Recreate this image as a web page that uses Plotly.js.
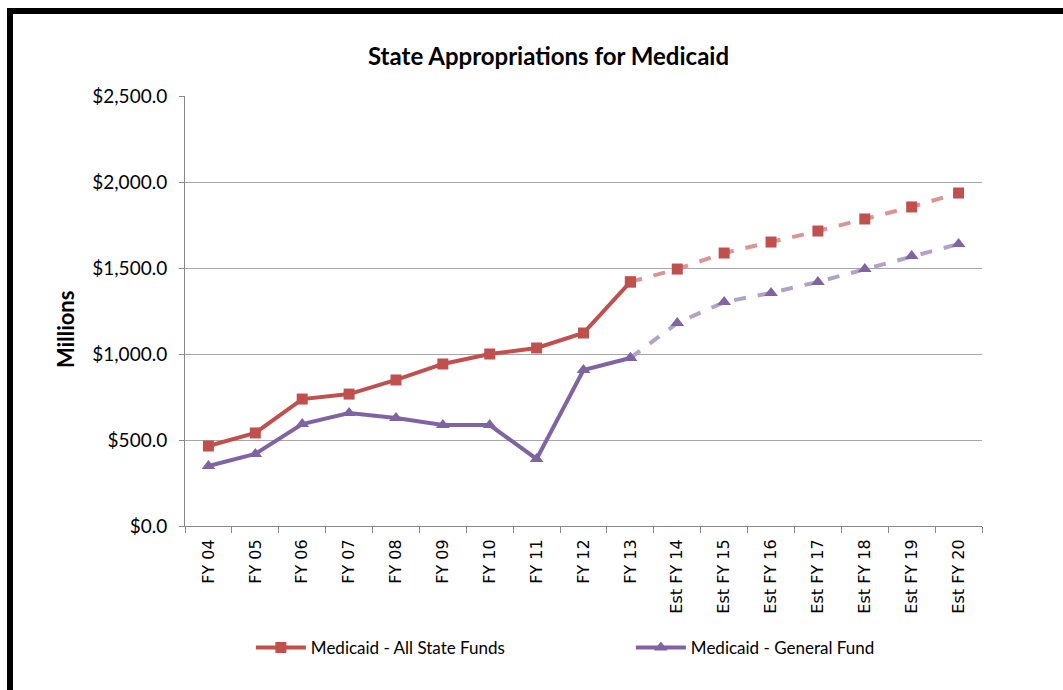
<!DOCTYPE html>
<html>
<head>
<meta charset="utf-8">
<script src="https://cdn.plot.ly/plotly-3.0.1.min.js"></script>
<style>
html,body{margin:0;padding:0;background:#fff;width:1063px;height:690px;overflow:hidden;}
#chart{position:absolute;left:0;top:0;width:1063px;height:690px;}
#frame{position:absolute;left:7px;top:8px;width:1056px;height:682px;border-top:6px solid #000;border-left:6px solid #000;box-sizing:border-box;pointer-events:none;z-index:5;}
</style>
</head>
<body>
<div id="chart"></div>
<div id="frame"></div>
<script>
const categories = ["FY 04","FY 05","FY 06","FY 07","FY 08","FY 09","FY 10","FY 11","FY 12","FY 13",
  "Est FY 14","Est FY 15","Est FY 16","Est FY 17","Est FY 18","Est FY 19","Est FY 20"];
const allStateFunds = [465, 541, 738, 767, 849, 942, 1000, 1035, 1122, 1419,
  1494, 1587, 1651, 1715, 1785, 1855, 1936];
const generalFund = [349, 419, 593, 657, 628, 587, 587, 390, 907, 977,
  1180, 1302, 1355, 1419, 1494, 1570, 1640];
const actualCount = 10; // FY 04 - FY 13 actual; remainder estimated

const red = "#C0504D", redLight = "#DA9694";
const purple = "#8064A2", purpleLight = "#B3A2C7";
const mainFont = "Lato, 'Open Sans', sans-serif";

function seg(arr, a, b){ return arr.slice(a, b); }

const traces = [
  {
    x: seg(categories, actualCount-1, categories.length),
    y: seg(allStateFunds, actualCount-1, categories.length),
    type: "scatter", mode: "lines+markers", showlegend: false,
    line: {color: redLight, width: 4, dash: "dash"},
    marker: {symbol: "square", size: 11, color: red}
  },
  {
    x: seg(categories, actualCount-1, categories.length),
    y: seg(generalFund, actualCount-1, categories.length),
    type: "scatter", mode: "lines+markers", showlegend: false,
    line: {color: purpleLight, width: 4, dash: "dash"},
    marker: {symbol: "triangle-up", size: 12, color: purple}
  },
  {
    name: "Medicaid - All State Funds",
    x: seg(categories, 0, actualCount),
    y: seg(allStateFunds, 0, actualCount),
    type: "scatter", mode: "lines+markers",
    line: {color: red, width: 4},
    marker: {symbol: "square", size: 11, color: red}
  },
  {
    name: "Medicaid - General Fund",
    x: seg(categories, 0, actualCount),
    y: seg(generalFund, 0, actualCount),
    type: "scatter", mode: "lines+markers",
    line: {color: purple, width: 4},
    marker: {symbol: "triangle-up", size: 12, color: purple}
  }
];

const layout = {
  width: 1063, height: 690,
  margin: {l: 185, r: 81, t: 96, b: 164},
  paper_bgcolor: "#fff", plot_bgcolor: "#fff",
  font: {family: mainFont, color: "#000"},
  title: {
    text: "<b>State Appropriations for Medicaid</b>",
    font: {family: mainFont, size: 24, color: "#000"},
    x: 0.516, xanchor: "center", y: 0.918, yanchor: "middle"
  },
  xaxis: {
    type: "category", categoryorder: "array", categoryarray: categories,
    range: [-0.5, 16.5], automargin: false,
    tickangle: -90, tickson: "boundaries",
    ticks: "outside", ticklen: 6, tickcolor: "#888", tickwidth: 1,
    ticklabelstandoff: 6,
    showline: true, linecolor: "#888", linewidth: 1,
    showgrid: false, zeroline: false,
    tickfont: {family: "'DejaVu Sans', Verdana, sans-serif", size: 16, color: "#000"},
    fixedrange: true
  },
  yaxis: {
    range: [0, 2500], dtick: 500, tick0: 0, automargin: false,
    tickprefix: "$", tickformat: ",.1f",
    ticks: "outside", ticklen: 5, tickcolor: "#888",
    ticklabelstandoff: 8,
    showline: true, linecolor: "#888", linewidth: 1,
    showgrid: true, gridcolor: "#A6A6A6", gridwidth: 1,
    zeroline: false,
    tickfont: {family: mainFont, size: 19, color: "#000"},
    fixedrange: true
  },
  annotations: [{
    text: "<b>Millions</b>", textangle: -90, showarrow: false,
    xref: "paper", yref: "paper", x: -0.1506, y: 0.458,
    xanchor: "center", yanchor: "middle",
    font: {family: mainFont, size: 22, color: "#000"}
  }],
  legend: {
    orientation: "h", xref: "container", yref: "container",
    x: 0.236, xanchor: "left", y: 0.061, yanchor: "middle",
    font: {family: mainFont, size: 17, color: "#000"},
    entrywidth: 315, entrywidthmode: "pixels",
    itemwidth: 50, traceorder: "normal", bgcolor: "rgba(0,0,0,0)"
  },
  showlegend: true
};

Plotly.newPlot("chart", traces, layout, {staticPlot: true, displayModeBar: false});
</script>
</body>
</html>
